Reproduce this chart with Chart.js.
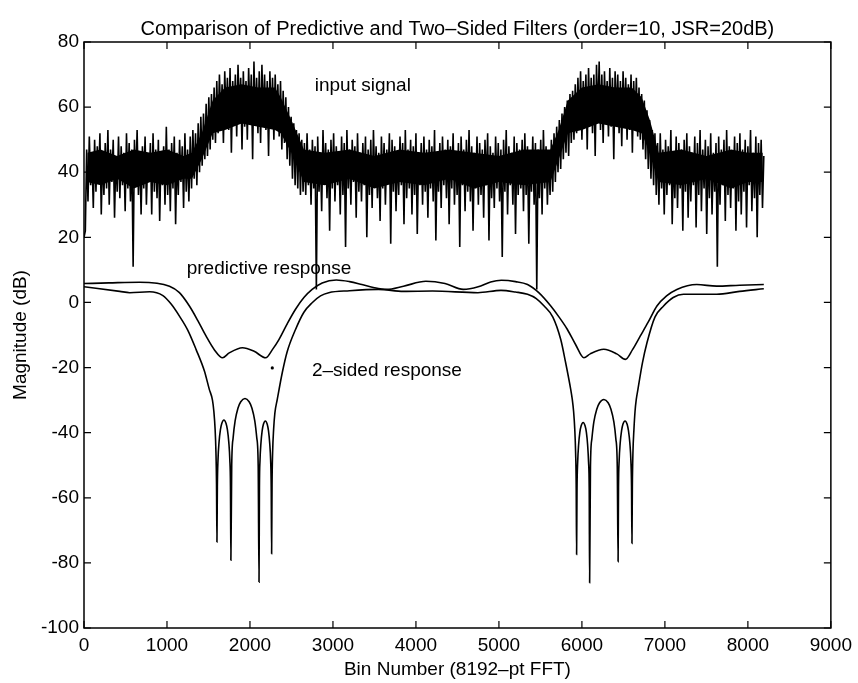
<!DOCTYPE html>
<html>
<head>
<meta charset="utf-8">
<script src="https://cdn.jsdelivr.net/npm/chart.js@4/dist/chart.umd.min.js"></script>
<style>
html,body{margin:0;padding:0;background:#fff;}
#wrap{width:858px;height:683px;position:relative;}
</style>
</head>
<body>
<div id="wrap"><canvas id="c"></canvas></div>
<script>
// ---- data ----
const titleText = "Comparison of Predictive and Two\u2013Sided Filters (order=10, JSR=20dB)";
const xAxisTitle = "Bin Number (8192\u2013pt FFT)";
const yAxisTitle = "Magnitude (dB)";
const xTickValues = [0,1000,2000,3000,4000,5000,6000,7000,8000,9000];
const yTickValues = [-100,-80,-60,-40,-20,0,20,40,60,80];

// input signal spectrum, sampled every sigStep bins (bins 0..8192)
const sigStep = 16;
const sigValues = [
20,22,
47,31,51,36,45,29,50,34,48,38,52,27,46,33,49,35,53,30,47,37,
50,26,45,34,51,32,48,36,46,28,52,35,49,31,47,11,50,36,53,33,
46,27,48,35,51,30,45,37,49,27,52,34,47,32,50,25,46,36,48,30,
54,33,47,28,49,35,51,24,46,33,50,37,48,29,52,34,47,31,
51,35,53,38,52,36,55,40,57,42,58,44,61,45,63,47,64,50,66,49,
68,52,70,55,67,49,71,57,69,53,72,46,68,56,70,51,73,58,69,47,
71,54,68,50,72,57,70,44,74,55,69,52,71,49,73,56,70,53,68,45,
71,55,69,50,70,54,
67,51,68,47,65,49,63,44,60,42,57,38,55,36,53,35,52,33,50,34,
49,33,52,36,47,30,50,35,48,4,51,34,46,28,53,37,49,32,47,22,
50,35,52,31,48,36,46,27,51,33,49,17,53,35,47,30,50,37,48,26,
52,34,46,31,49,36,51,20,47,33,50,29,53,36,48,32,46,25,51,35,
49,30,47,37,52,18,50,34,48,28,46,33,51,36,49,24,53,32,47,35,
50,27,48,33,52,21,46,36,49,30,51,34,47,26,50,35,48,31,53,19,
46,34,49,29,51,36,47,32,50,24,48,35,52,30,46,33,49,17,51,36,
47,28,50,34,53,31,48,22,46,35,51,30,49,33,47,26,50,36,52,19,
48,32,46,29,51,35,49,31,47,14,50,34,53,27,48,36,46,30,51,21,
49,33,47,35,50,28,52,33,48,18,46,34,51,30,49,4,47,32,50,27,
53,35,48,30,46,33,
50,34,52,37,54,40,56,41,58,44,60,46,62,45,64,49,65,50,67,52,
69,54,71,50,68,56,70,47,72,55,69,52,70,45,73,57,74,53,70,49,
71,56,68,51,72,54,69,44,71,57,70,52,68,48,71,55,69,50,67,53,
70,46,68,54,69,51,
66,50,64,47,62,44,59,41,56,38,53,36,52,33,
49,30,52,35,47,27,50,33,48,36,53,24,46,32,51,29,49,35,47,22,
50,34,52,26,48,31,46,36,51,23,49,33,53,28,47,35,50,21,48,32,
52,27,46,34,49,11,51,30,47,36,50,25,53,33,48,29,46,35,51,22,
49,31,52,27,47,34,50,23,48,36,53,28,46,32,51,20,49,33,50,29,
45
];

// dense (solid black) core of the noisy input signal
const coreBins = [40,200,400,600,800,1000,1200,1300,1420,1550,1700,1900,2100,2300,2370,2500,2650,
  2900,3200,3500,3800,4100,4400,4700,5000,5300,5620,5720,5830,6000,6200,6400,6600,6720,6820,6925,
  7200,7500,7800,8000,8180];
const coreLow  = [37,36,38,35,37,36,38,38,44,52,53,55,54,53,52,46,37,
  36,38,35,37,36,38,35,37,36,37,44,52,53,55,54,53,52,46,37,
  36,38,35,37,37];
const coreHigh = [46,47,45,47,46,47,45,46,52,62,66,67,66,66,63,56,47,
  46,47,45,47,46,47,46,45,47,47,53,62,66,67,66,66,63,56,46,
  47,45,47,46,46];

// predictive filter response [bin, dB]
const predictiveResponse = [
[0,5.8],[300,6.0],[670,6.2],[1030,5.0],[1150,3.0],[1270,-1.1],[1370,-5.5],[1470,-10.3],[1570,-14.5],[1670,-17.0],
[1750,-15.5],[1910,-13.9],[2050,-15.0],[2189,-17.0],[2270,-14.5],[2349,-11.4],[2450,-6.5],[2549,-2.1],[2650,1.5],[2749,4.0],
[2870,6.0],[3040,6.9],[3200,6.4],[3348,5.5],[3500,4.5],[3650,4.0],[3850,5.0],[4120,6.5],[4350,5.8],[4570,4.0],
[4750,4.8],[4900,6.3],[5030,6.8],[5200,6.4],[5345,5.5],[5480,3.0],[5625,-1.1],[5725,-4.5],[5825,-8.3],[5925,-13.0],
[6024,-17.0],[6100,-15.8],[6264,-14.4],[6420,-15.8],[6524,-17.5],[6610,-14.5],[6704,-10.3],[6800,-6.0],[6904,-1.1],[7020,2.0],
[7144,4.0],[7384,5.5],[7624,5.0],[7900,5.3],[8192,5.5]
];

// two-sided filter response [bin, dB]
const twoSidedResponse = [
[0,4.8],[431,3.4],[551,3.0],[791,3.3],[951,2.1],[1050,-0.5],[1150,-4.2],[1250,-8.5],[1350,-14.4],[1450,-21.0],
[1510,-26.7],[1548,-30.0],[1565,-33.5],[1580,-39.0],[1590,-46.0],[1597,-56.0],[1602,-73.6],
[1607,-56.6],[1615,-48.2],[1627,-43.0],[1644,-39.1],[1661,-37.1],[1686,-36.1],[1711,-37.1],[1728,-39.1],[1745,-43.0],[1757,-48.2],[1765,-56.6],[1770,-79.2],
[1780,-50.0],[1797,-41.6],[1821,-36.4],[1855,-32.5],[1889,-30.5],[1940,-29.5],[1990,-30.5],[2024,-32.5],[2058,-36.4],[2082,-41.6],[2099,-50.0],[2109,-85.9],
[2114,-56.9],[2121,-48.5],[2132,-43.3],[2147,-39.4],[2162,-37.4],[2185,-36.4],[2208,-37.4],[2223,-39.4],[2238,-43.3],[2249,-48.5],[2256,-56.9],[2261,-77.2],
[2266,-56.0],[2273,-46.0],[2285,-39.0],[2300,-34.0],[2329,-29.8],[2389,-21.6],[2450,-15.0],[2549,-8.3],[2650,-3.0],[2749,-0.1],
[2850,2.0],[2949,3.0],[3200,3.6],[3548,4.0],[3850,3.4],[4200,3.5],[4747,3.0],[5025,3.7],[5200,3.2],[5345,2.5],
[5450,1.2],[5545,-1.1],[5650,-4.5],[5745,-11.4],[5800,-18.0],[5865,-26.7],[5884,-29.8],[5900,-33.5],[5914,-39.0],[5924,-46.0],[5931,-56.0],[5936,-77.4],
[5941,-57.4],[5949,-49.0],[5960,-43.8],[5975,-39.9],[5991,-37.9],[6015,-36.9],[6038,-37.9],[6054,-39.9],[6069,-43.8],[6080,-49.0],[6088,-57.4],[6093,-86.1],
[6103,-50.3],[6120,-41.9],[6144,-36.7],[6179,-32.8],[6213,-30.8],[6265,-29.8],[6316,-30.8],[6350,-32.8],[6385,-36.7],[6409,-41.9],[6426,-50.3],[6436,-79.6],
[6441,-56.9],[6449,-48.5],[6461,-43.3],[6478,-39.4],[6494,-37.4],[6520,-36.4],[6545,-37.4],[6561,-39.4],[6578,-43.3],[6590,-48.5],[6598,-56.9],[6603,-74.0],
[6608,-56.0],[6615,-46.0],[6627,-39.0],[6640,-33.5],[6655,-29.8],[6675,-26.7],[6730,-18.5],[6784,-12.4],[6880,-4.5],[6984,-1.1],
[7100,1.5],[7224,2.5],[7624,2.5],[7900,3.4],[8192,4.2]
];

// stray dot in the original plot
const strayDot = [[2269,-20.1]];

// text labels placed in data coordinates [text, bin, dB]
const plotLabels = [
["input signal", 3360, 66.5],
["predictive response", 2230, 10.3],
["2\u2013sided response", 3650, -21.0]
];

// ---- chart ----
const FONT = "'Liberation Sans', Arial, Helvetica, sans-serif";
const toXY = arr => arr.map(p => ({x:p[0], y:p[1]}));

const framePlugin = {
  id: 'frame',
  afterDatasetsDraw(chart) {
    const {ctx, chartArea:a, scales} = chart;
    const xs = scales.x, ys = scales.y;
    ctx.save();
    ctx.strokeStyle = '#000';
    ctx.lineWidth = 1.5;
    ctx.strokeRect(a.left, a.top, a.right - a.left, a.bottom - a.top);
    ctx.lineWidth = 1.2;
    const L = 7;
    ctx.beginPath();
    xTickValues.forEach(v => {
      const px = xs.getPixelForValue(v);
      ctx.moveTo(px, a.bottom); ctx.lineTo(px, a.bottom - L);
      ctx.moveTo(px, a.top); ctx.lineTo(px, a.top + L);
    });
    yTickValues.forEach(v => {
      const py = ys.getPixelForValue(v);
      ctx.moveTo(a.left, py); ctx.lineTo(a.left + L, py);
      ctx.moveTo(a.right, py); ctx.lineTo(a.right - L, py);
    });
    ctx.stroke();
    ctx.fillStyle = '#000';
    ctx.font = '19px ' + FONT;
    ctx.textAlign = 'center';
    ctx.textBaseline = 'middle';
    plotLabels.forEach(l => {
      ctx.fillText(l[0], xs.getPixelForValue(l[1]), ys.getPixelForValue(l[2]));
    });
    // title centred over the plot box
    ctx.font = '20px ' + FONT;
    ctx.fillText(titleText, (a.left + a.right) / 2, 29);
    ctx.restore();
  }
};

new Chart(document.getElementById('c'), {
  type: 'line',
  data: {
    datasets: [
      {
        label: 'core low',
        data: coreBins.map((b, i) => ({x: b, y: coreLow[i]})),
        borderWidth: 0, pointRadius: 0, fill: false
      },
      {
        label: 'core high',
        data: coreBins.map((b, i) => ({x: b, y: coreHigh[i]})),
        borderWidth: 0, pointRadius: 0, fill: '-1', backgroundColor: '#000'
      },
      {
        label: 'input signal',
        data: sigValues.map((v, i) => ({x: i * sigStep, y: v})),
        borderColor: '#000', borderWidth: 1.6, pointRadius: 0, tension: 0,
        borderJoinStyle: 'miter'
      },
      {
        label: 'predictive response',
        data: toXY(predictiveResponse),
        borderColor: '#000', borderWidth: 1.6, pointRadius: 0,
        cubicInterpolationMode: 'monotone'
      },
      {
        label: '2-sided response',
        data: toXY(twoSidedResponse),
        borderColor: '#000', borderWidth: 1.6, pointRadius: 0,
        cubicInterpolationMode: 'monotone'
      },
      {
        label: 'dot',
        data: toXY(strayDot),
        showLine: false, pointRadius: 1.6, pointBackgroundColor: '#000', pointBorderWidth: 0
      }
    ]
  },
  options: {
    responsive: true,
    maintainAspectRatio: false,
    animation: false,
    layout: { padding: { left: 0, right: 23, top: 42, bottom: 0 } },
    plugins: {
      legend: { display: false },
      tooltip: { enabled: false },
      title: { display: false },
      filler: { propagate: false }
    },
    scales: {
      x: {
        type: 'linear',
        min: 0, max: 9000,
        grid: { display: false, drawTicks: false },
        border: { display: false },
        afterBuildTicks: s => { s.ticks = xTickValues.map(v => ({value: v})); },
        afterFit: s => { s.height = 55; },
        ticks: {
          autoSkip: false, maxRotation: 0, color: '#000', padding: 6,
          font: { family: FONT, size: 19 },
          callback: v => String(v)
        },
        title: {
          display: true, text: xAxisTitle, color: '#000',
          font: { family: FONT, size: 19 },
          padding: { top: 0, bottom: 2 }
        }
      },
      y: {
        min: -100, max: 80,
        grid: { display: false, drawTicks: false },
        border: { display: false },
        afterBuildTicks: s => { s.ticks = yTickValues.map(v => ({value: v})); },
        afterFit: s => { s.width = 84; },
        ticks: {
          autoSkip: false, color: '#000', padding: 5,
          font: { family: FONT, size: 19 },
          callback: v => String(v)
        },
        title: {
          display: true, text: yAxisTitle, color: '#000',
          font: { family: FONT, size: 19 },
          padding: { top: 9, bottom: 0 }
        }
      }
    }
  },
  plugins: [framePlugin]
});
</script>
</body>
</html>
